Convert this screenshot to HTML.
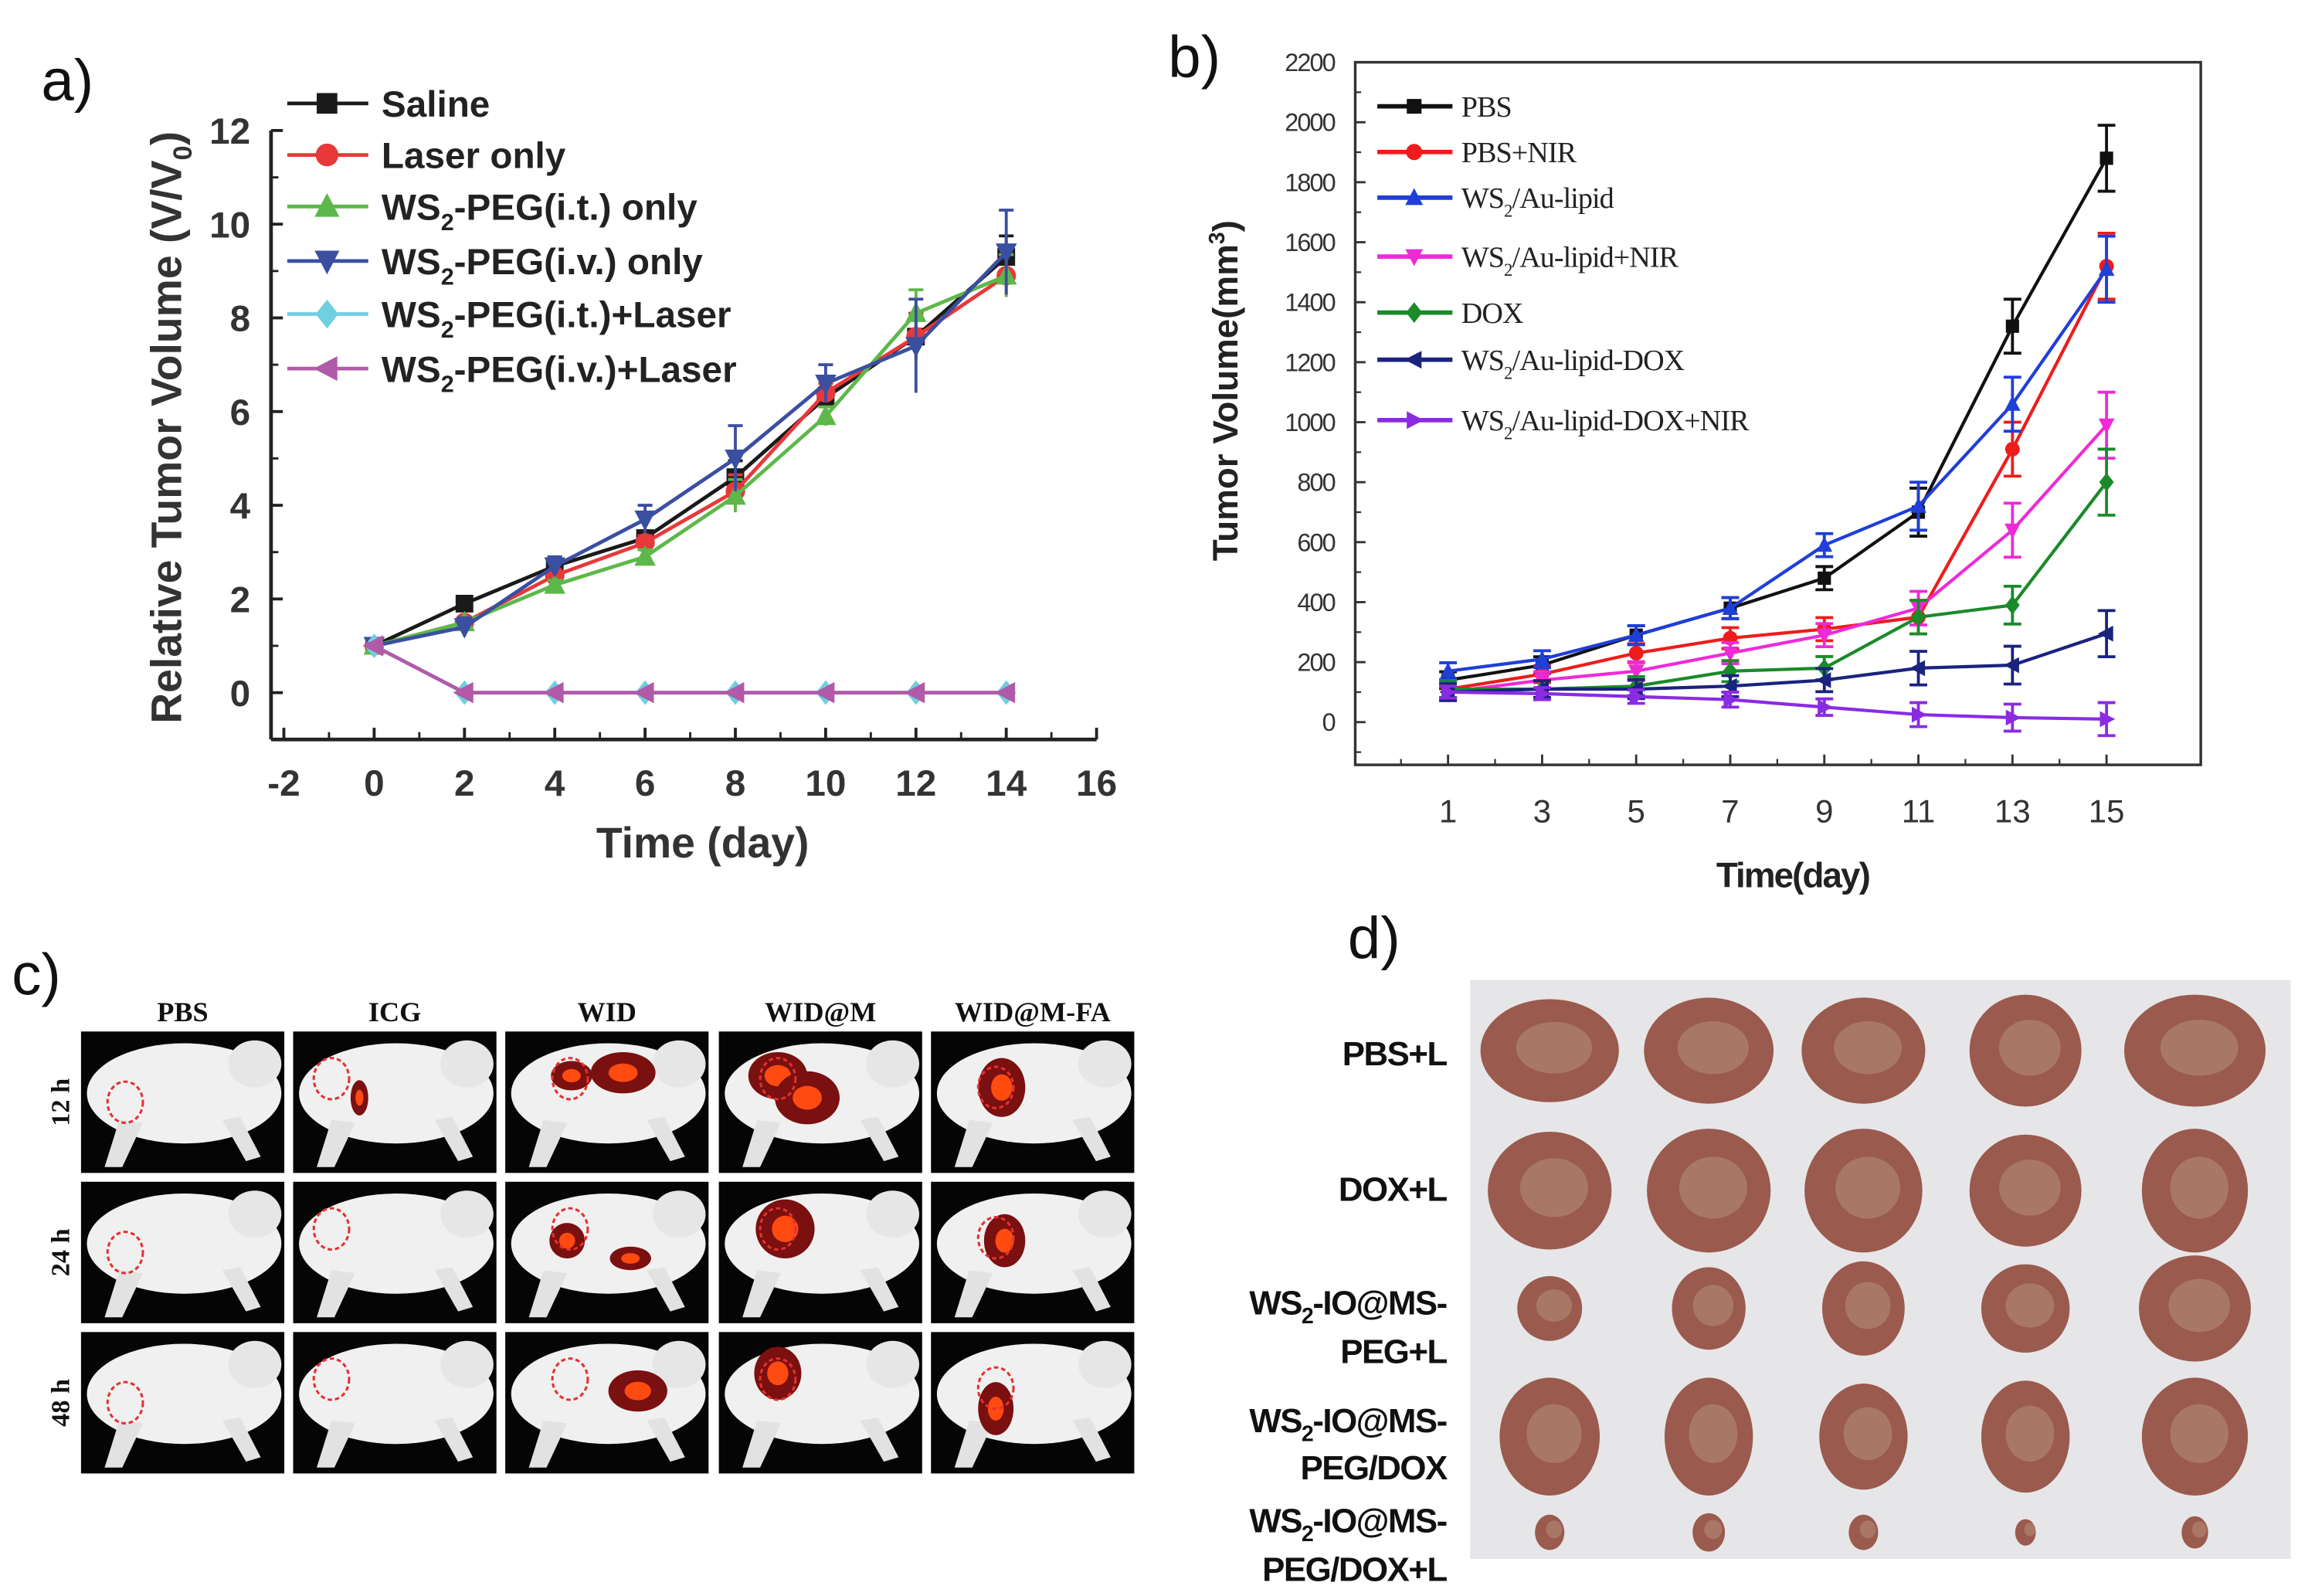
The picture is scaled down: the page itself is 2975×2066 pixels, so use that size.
<!DOCTYPE html>
<html><head><meta charset="utf-8"><style>
html,body{margin:0;padding:0;background:#fff}
svg{display:block}
text{font-family:"Liberation Sans",sans-serif}
.serif{font-family:"Liberation Serif",serif}
</style></head><body>
<svg id="fig" width="2975" height="2066" viewBox="0 0 1560 1083" xmlns="http://www.w3.org/2000/svg">
<rect width="1560" height="1083" fill="#fff"/>
<g id="pa"></g>
<g id="pb"></g>
<g id="pc"></g>
<g id="pd"></g>
</svg>
<script>
// ---- Panel A data ----
const aDays=[0,2,4,6,8,10,12,14];
const aNames=["Saline","Laser only","WS2-PEG(i.t.) only","WS2-PEG(i.v.) only","WS2-PEG(i.t.)+Laser","WS2-PEG(i.v.)+Laser"];
const aSaline=[1,1.9,2.7,3.3,4.6,6.3,7.6,9.3];
const aLaser=[1,1.5,2.5,3.2,4.3,6.4,7.6,8.9];
const aItOnly=[1,1.5,2.3,2.9,4.2,5.9,8.1,8.9];
const aIvOnly=[1,1.4,2.7,3.7,5.0,6.6,7.4,9.4];
const aItLaser=[1,0,0,0,0,0,0,0];
const aIvLaser=[1,0,0,0,0,0,0,0];
const aErr=[0.1,0.2,0.2,0.3,0.7,0.4,1.0,0.9];
const aXTicks=[-2,0,2,4,6,8,10,12,14,16];
const aYTicks=[0,2,4,6,8,10,12];
// ---- Panel B data ----
const bDays=[1,3,5,7,9,11,13,15];
const bNames=["PBS","PBS+NIR","WS2/Au-lipid","WS2/Au-lipid+NIR","DOX","WS2/Au-lipid-DOX","WS2/Au-lipid-DOX+NIR"];
const bPBS=[140,190,290,380,480,700,1320,1880];
const bPBSNIR=[110,160,230,280,310,350,910,1520];
const bWS=[170,210,290,380,590,720,1060,1510];
const bWSNIR=[100,140,170,230,290,380,640,990];
const bDOX=[110,110,120,170,180,350,390,800];
const bWSDOX=[100,110,110,120,140,180,190,295];
const bWSDOXNIR=[100,95,85,75,50,25,15,10];
const bErr=[40,40,45,50,55,80,90,110];
const bXTicks=[1,3,5,7,9,11,13,15];
const bYTicks=[0,200,400,600,800,1000,1200,1400,1600,1800,2000,2200];

const NS="http://www.w3.org/2000/svg";
function mk(parent,tag,attrs,txt){const e=document.createElementNS(NS,tag);for(const k in attrs)e.setAttribute(k,attrs[k]);if(txt!==undefined)e.textContent=txt;parent.appendChild(e);return e;}
function marker(g,shape,x,y,s,c){
  let e;
  if(shape==='sq')e=mk(g,'rect',{x:x-s,y:y-s,width:2*s,height:2*s,fill:c});
  else if(shape==='ci')e=mk(g,'circle',{cx:x,cy:y,r:s*1.1,fill:c});
  else if(shape==='up')e=mk(g,'polygon',{points:`${x},${y-s*1.3} ${x-s*1.2},${y+s} ${x+s*1.2},${y+s}`,fill:c});
  else if(shape==='dn')e=mk(g,'polygon',{points:`${x},${y+s*1.3} ${x-s*1.2},${y-s} ${x+s*1.2},${y-s}`,fill:c});
  else if(shape==='di')e=mk(g,'polygon',{points:`${x},${y-s*1.4} ${x-s*1.1},${y} ${x},${y+s*1.4} ${x+s*1.1},${y}`,fill:c});
  else if(shape==='lt')e=mk(g,'polygon',{points:`${x-s*1.3},${y} ${x+s},${y-s*1.2} ${x+s},${y+s*1.2}`,fill:c});
  else if(shape==='rt')e=mk(g,'polygon',{points:`${x+s*1.3},${y} ${x-s},${y-s*1.2} ${x-s},${y+s*1.2}`,fill:c});
  
  
}

// ===== Panel A =====
(function(){
const g=document.getElementById('pa');
const X=v=>254+(v-0)*30.65, Y=v=>470-v*31.8;
mk(g,'text',{x:28,y:68,'font-size':40,fill:'#111',},'a)');
mk(g,'line',{x1:184,y1:Y(12),x2:184,y2:Y(-1),stroke:'#222','stroke-width':2.5,});
mk(g,'line',{x1:184,y1:Y(-1),x2:X(16),y2:Y(-1),stroke:'#222','stroke-width':2.5,});
aYTicks.forEach(v=>{mk(g,'line',{x1:184,y1:Y(v),x2:192,y2:Y(v),stroke:'#222','stroke-width':2});
 if(v<12)mk(g,'line',{x1:184,y1:Y(v+1),x2:189,y2:Y(v+1),stroke:'#222','stroke-width':1.5});
 const t=mk(g,'text',{x:170,y:Y(v)+9,'font-size':25,'font-weight':'bold','text-anchor':'end',fill:'#333'},v);
 });
aXTicks.forEach(v=>{mk(g,'line',{x1:X(v),y1:Y(-1),x2:X(v),y2:Y(-1)-8,stroke:'#222','stroke-width':2});
 if(v<16)mk(g,'line',{x1:X(v+1),y1:Y(-1),x2:X(v+1),y2:Y(-1)-5,stroke:'#222','stroke-width':1.5});
 const t=mk(g,'text',{x:X(v),y:540,'font-size':25,'font-weight':'bold','text-anchor':'middle',fill:'#333'},v);
 });
mk(g,'text',{x:477,y:582,'font-size':29,'font-weight':'bold','text-anchor':'middle',fill:'#333',},'Time (day)');
const yt=mk(g,'text',{transform:'translate(123,290) rotate(-90)','font-size':29,'font-weight':'bold','text-anchor':'middle',fill:'#333',},'Relative Tumor Volume (V/V');
mk(yt,'tspan',{'font-size':18,dy:7},'0');mk(yt,'tspan',{dy:-7},')');
const series=[aSaline,aLaser,aItOnly,aIvOnly,aItLaser,aIvLaser];
const cols=['#1a1a1a','#e8383a','#5cb84a','#3a4fa0','#6fd0e0','#b05aa8'];
const shapes=['sq','ci','up','dn','di','lt'];
series.forEach((s,i)=>{
 const sg=mk(g,'g',{});
 mk(sg,'polyline',{points:s.map((v,j)=>X(aDays[j])+','+Y(v)).join(' '),fill:'none',stroke:cols[i],'stroke-width':2.5});
 s.forEach((v,j)=>{ if(v>0.5){const e=aErr[j]*(i===3?1:0.5);mk(sg,'line',{x1:X(aDays[j]),y1:Y(v-e),x2:X(aDays[j]),y2:Y(v+e),stroke:cols[i],'stroke-width':2});mk(sg,'line',{x1:X(aDays[j])-5,y1:Y(v+e),x2:X(aDays[j])+5,y2:Y(v+e),stroke:cols[i],'stroke-width':2});}
  marker(sg,shapes[i],X(aDays[j]),Y(v),6,cols[i]);});
});
const ly=[70,105,140,177,213,250];
aNames.forEach((n,i)=>{
 const lg=mk(g,'g',{});
 mk(lg,'line',{x1:195,y1:ly[i],x2:250,y2:ly[i],stroke:cols[i],'stroke-width':2.5});
 marker(lg,shapes[i],222,ly[i],7,cols[i]);
 const t=mk(lg,'text',{x:259,y:ly[i]+9,'font-size':25,'font-weight':'bold',fill:'#222'});
 if(n.startsWith('WS2')){t.appendChild(document.createTextNode('WS'));mk(t,'tspan',{'font-size':16,dy:7},'2');mk(t,'tspan',{dy:-7},n.slice(3));}
 else t.textContent=n;
});
})();

// ===== Panel B =====
(function(){
const g=document.getElementById('pb');
const X=v=>983+(v-1)*31.93, Y=v=>490-v*0.2036;
const L=920,R=1494,T=Y(2200),B=519;
mk(g,'text',{x:793,y:52,'font-size':40,fill:'#111',},'b)');
mk(g,'rect',{x:L,y:T,width:R-L,height:B-T,fill:'none',stroke:'#333','stroke-width':1.8,});
bYTicks.forEach(v=>{mk(g,'line',{x1:L,y1:Y(v),x2:L+7,y2:Y(v),stroke:'#333','stroke-width':1.5});
 mk(g,'line',{x1:L,y1:Y(v-100),x2:L+4,y2:Y(v-100),stroke:'#333','stroke-width':1.2});
 const t=mk(g,'text',{x:906,y:Y(v)+6,'font-size':17,'text-anchor':'end',fill:'#333','letter-spacing':-1},v);
 });
bXTicks.forEach(v=>{mk(g,'line',{x1:X(v),y1:B,x2:X(v),y2:B-7,stroke:'#333','stroke-width':1.5});
 mk(g,'line',{x1:X(v-1),y1:B,x2:X(v-1),y2:B-4,stroke:'#333','stroke-width':1.2});
 const t=mk(g,'text',{x:X(v),y:558,'font-size':22,'text-anchor':'middle',fill:'#333'},v);
 });
mk(g,'text',{x:1217,y:602,'font-size':24,'font-weight':'bold','text-anchor':'middle',fill:'#222','letter-spacing':-1,},'Time(day)');
const yt=mk(g,'text',{transform:'translate(840,265) rotate(-90)','font-size':24,'font-weight':'bold','text-anchor':'middle',fill:'#222',},'Tumor Volume(mm');
mk(yt,'tspan',{'font-size':15,dy:-9},'3');mk(yt,'tspan',{dy:9},')');
const series=[bPBS,bPBSNIR,bWS,bWSNIR,bDOX,bWSDOX,bWSDOXNIR];
const cols=['#111','#ee1c1c','#1f3fd8','#ee2ad8','#1a8a2a','#1a237e','#8a2be2'];
const shapes=['sq','ci','up','dn','di','lt','rt'];
series.forEach((s,i)=>{
 const sg=mk(g,'g',{});
 mk(sg,'polyline',{points:s.map((v,j)=>X(bDays[j])+','+Y(v)).join(' '),fill:'none',stroke:cols[i],'stroke-width':2.2});
 s.forEach((v,j)=>{const e=bErr[j]*(i===6?0.5:(v>600?1:0.7));const x=X(bDays[j]);
  mk(sg,'line',{x1:x,y1:Y(v-e),x2:x,y2:Y(v+e),stroke:cols[i],'stroke-width':2});
  mk(sg,'line',{x1:x-6,y1:Y(v+e),x2:x+6,y2:Y(v+e),stroke:cols[i],'stroke-width':2});
  mk(sg,'line',{x1:x-6,y1:Y(v-e),x2:x+6,y2:Y(v-e),stroke:cols[i],'stroke-width':2});
  marker(sg,shapes[i],x,Y(v),4.5,cols[i]);});
});
const ly=[72,103,134,174,212,244,285];
bNames.forEach((n,i)=>{
 const lg=mk(g,'g',{});
 mk(lg,'line',{x1:935,y1:ly[i],x2:986,y2:ly[i],stroke:cols[i],'stroke-width':3});
 marker(lg,shapes[i],960,ly[i],5,cols[i]);
 const t=mk(lg,'text',{x:992,y:ly[i]+7,'font-size':20,fill:'#222','class':'serif','letter-spacing':-0.5});
 if(n.startsWith('WS2')){t.appendChild(document.createTextNode('WS'));mk(t,'tspan',{'font-size':12,dy:6},'2');mk(t,'tspan',{dy:-6},n.slice(3));}
 else t.textContent=n;
});
})();

// ===== Panel C =====
(function(){
const g=document.getElementById('pc');
mk(g,'text',{x:8,y:675,'font-size':40,fill:'#111',},'c)');
const colX=[55,199,343,488,632],rowY=[700,802,904],W=138,H=96;
const heads=['PBS','ICG','WID','WID@M','WID@M-FA'];
const rows=['12 h','24 h','48 h'];
heads.forEach((h,i)=>{const t=mk(g,'text',{x:colX[i]+W/2,y:693,'font-size':19,'font-weight':'bold','text-anchor':'middle','class':'serif',fill:'#111'},h);
 });
rows.forEach((r,j)=>{const t=mk(g,'text',{transform:`translate(47,${rowY[j]+H/2}) rotate(-90)`,'font-size':18,'font-weight':'bold','text-anchor':'middle','class':'serif',fill:'#111'},r);
 });
const hot={"2-0":[[45,30,14,10],[80,28,22,14]],"3-0":[[40,30,20,16],[60,45,22,18]],"4-0":[[48,38,16,20]],
 "1-0":[[45,45,6,12]],"2-1":[[42,40,12,12],[85,52,14,8]],"3-1":[[45,32,20,20]],"4-1":[[50,40,14,18]],"2-2":[[90,40,20,14]],"3-2":[[40,28,16,18]],"4-2":[[44,52,12,18]]};
rows.forEach((r,j)=>heads.forEach((h,i)=>{
 const cg=mk(g,'g',{transform:`translate(${colX[i]},${rowY[j]})`});
 
 mk(cg,'rect',{x:0,y:0,width:W,height:H,fill:'#050505'});
 mk(cg,'ellipse',{cx:70,cy:42,rx:66,ry:34,fill:'#f0f0f0'});
 mk(cg,'ellipse',{cx:118,cy:22,rx:18,ry:16,fill:'#e6e6e6'});
 mk(cg,'path',{d:'M26 60 L16 92 L28 92 L42 62 Z M96 60 L112 88 L122 85 L108 58 Z',fill:'#e2e2e2'});
 (hot[i+'-'+j]||[]).forEach(b=>{mk(cg,'ellipse',{cx:b[0],cy:b[1],rx:b[2],ry:b[3],fill:'#7a1010'});mk(cg,'ellipse',{cx:b[0],cy:b[1],rx:b[2]*0.45,ry:b[3]*0.45,fill:'#ff4a10'});});
 mk(cg,'ellipse',{cx:i===0?30:i===1?26:(i===3?40:44),cy:i===0?48:i===4?38:32,rx:12,ry:14,fill:'none',stroke:'#e53030','stroke-width':1.6,'stroke-dasharray':'3 2'});
}));
})();

// ===== Panel D =====
(function(){
const g=document.getElementById('pd');
mk(g,'text',{x:915,y:650,'font-size':40,fill:'#111',},'d)');
mk(g,'rect',{x:998,y:665,width:557,height:393,fill:'#e6e6e8',});
const cx=[1052,1160,1265,1375,1490];
const rowsY=[713,808,888,975,1040];
const rx=[[47,44,42,38,48],[42,42,40,38,36],[22,25,28,30,38],[34,30,30,30,36],[10,11,10,7,9]];
const ry=[[35,36,36,38,38],[40,42,42,38,42],[22,28,32,30,36],[40,40,36,38,40],[12,13,12,9,11]];
rowsY.forEach((y,r)=>cx.forEach((x,c)=>{
 const e=mk(g,'ellipse',{cx:x,cy:y,rx:rx[r][c],ry:ry[r][c],fill:'#9a5a4e'});
 
 mk(g,'ellipse',{cx:x+3,cy:y-2,rx:rx[r][c]*0.55,ry:ry[r][c]*0.5,fill:'#b48a76',opacity:0.6});
}));
const labels=[[["PBS+L",723]],[["DOX+L",815]],[["WS|2|-IO@MS-",892],["PEG+L",925]],[["WS|2|-IO@MS-",972],["PEG/DOX",1004]],[["WS|2|-IO@MS-",1040],["PEG/DOX+L",1073]]];
labels.forEach(ls=>ls.forEach(([s,y])=>{
 const t=mk(g,'text',{x:982,y:y,'font-size':23,'font-weight':'bold','text-anchor':'end',fill:'#111','letter-spacing':-0.8});
 
 const p=s.split('|');
 if(p.length>1){t.appendChild(document.createTextNode(p[0]));mk(t,'tspan',{'font-size':15,dy:6},p[1]);mk(t,'tspan',{dy:-6},p[2]);}
 else t.textContent=s;
}));
})();
</script>
</body></html>
